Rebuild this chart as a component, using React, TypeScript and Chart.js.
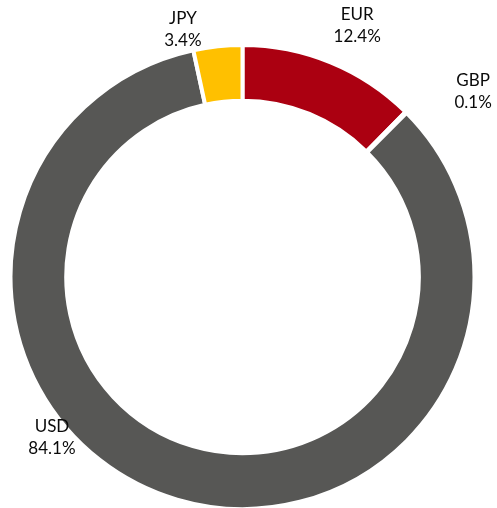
import React, { useEffect, useRef } from "react";
import { Chart, registerables } from "chart.js";

Chart.register(...registerables);

const categories = ["EUR", "GBP", "USD", "JPY"];
const shares = [12.4, 0.1, 84.1, 3.4];
const colors = ["#AB0011", "#575755", "#575755", "#FFC000"];

// label layout: angular shift (deg) from slice middle, distance as factor of outer radius
const labelShift = [2.2, 6.3, 33.5, -7.4];
const labelDist = [1.191, 1.277, 1.074, 1.099];

const labelPlugin = {
  id: "outsideLabels",
  afterDatasetsDraw(chart: any) {
    const meta = chart.getDatasetMeta(0);
    const ctx = chart.ctx;
    ctx.save();
    ctx.font = "17px Lato";
    ctx.fillStyle = "#0a0a0a";
    ctx.textAlign = "center";
    ctx.textBaseline = "middle";
    meta.data.forEach((arc: any, i: number) => {
      const mid = (arc.startAngle + arc.endAngle) / 2 + (labelShift[i] * Math.PI) / 180;
      const r = arc.outerRadius * labelDist[i];
      const x = arc.x + Math.cos(mid) * r;
      const y = arc.y + Math.sin(mid) * r;
      ctx.fillText(categories[i], x, y - 11);
      ctx.fillText(shares[i].toFixed(1) + "%", x, y + 11);
    });
    ctx.restore();
  },
};

export default function App() {
  const ref = useRef<HTMLCanvasElement>(null);
  useEffect(() => {
    if (!ref.current) return;
    const chart = new Chart(ref.current, {
      type: "doughnut",
      data: {
        labels: categories,
        datasets: [
          {
            data: shares,
            backgroundColor: colors,
            borderColor: "#ffffff",
            borderWidth: 4,
          },
        ],
      },
      options: {
        animation: false,
        responsive: true,
        maintainAspectRatio: false,
        radius: 232,
        cutout: 174,
        layout: { padding: { left: 0, right: 12, top: 46, bottom: 0 } },
        plugins: {
          legend: { display: false },
          tooltip: { enabled: false },
        },
      },
      plugins: [labelPlugin],
    });
    return () => chart.destroy();
  }, []);
  return (
    <div style={{ position: "fixed", left: 0, top: 0, width: 497, height: 508 }}>
      <canvas ref={ref} />
    </div>
  );
}
